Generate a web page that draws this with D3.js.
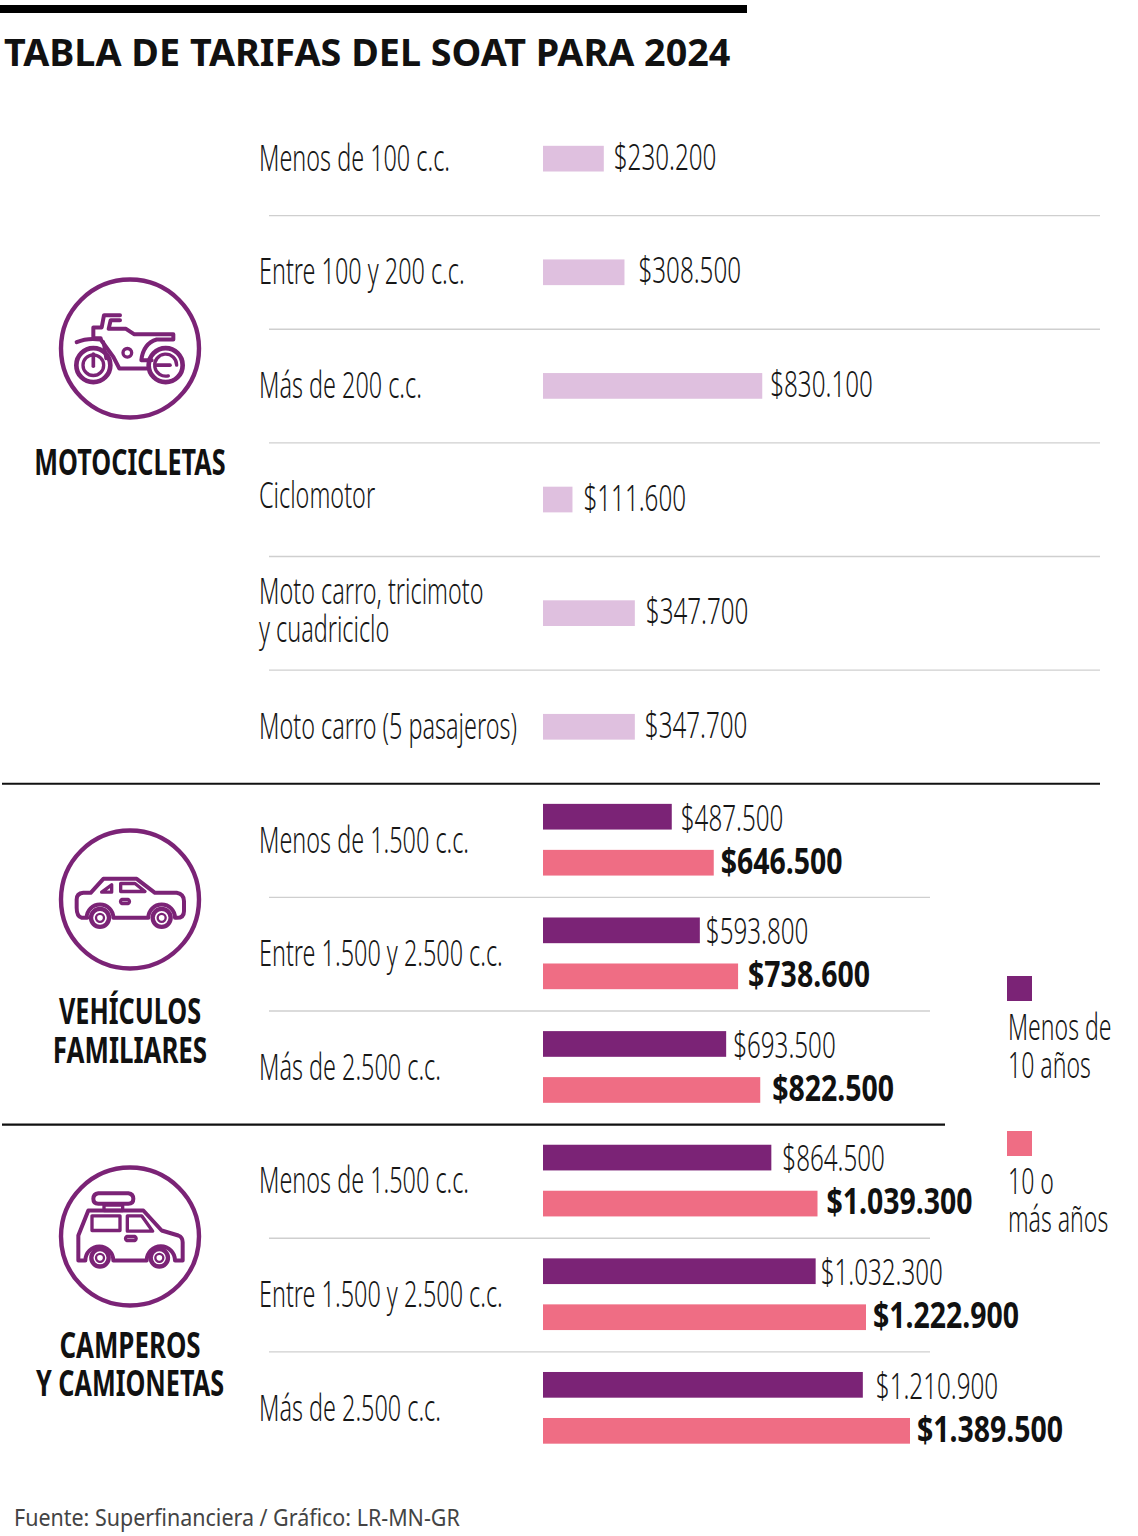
<!DOCTYPE html>
<html><head><meta charset="utf-8">
<script src="https://cdn.jsdelivr.net/npm/d3@7"></script>
<style>html,body{margin:0;padding:0;background:#fff}svg{display:block}text{font-family:"Noto Sans",sans-serif}</style>
</head><body><svg id="c" width="1138" height="1536"></svg>
<script>
const motoLabels=[["Menos de 100 c.c."],["Entre 100 y 200 c.c."],["Más de 200 c.c."],["Ciclomotor"],["Moto carro, tricimoto","y cuadriciclo"],["Moto carro (5 pasajeros)"]];
const motoValues=[230200,308500,830100,111600,347700,347700];
const autoLabels=[["Menos de 1.500 c.c."],["Entre 1.500 y 2.500 c.c."],["Más de 2.500 c.c."],["Menos de 1.500 c.c."],["Entre 1.500 y 2.500 c.c."],["Más de 2.500 c.c."]];
const newerValues=[487500,593800,693500,864500,1032300,1210900];
const olderValues=[646500,738600,822500,1039300,1222900,1389500];
const seriesNames=[["Menos de","10 años"],["10 o","más años"]];
const groupNames=[["MOTOCICLETAS"],["VEHÍCULOS","FAMILIARES"],["CAMPEROS","Y CAMIONETAS"]];
const title="TABLA DE TARIFAS DEL SOAT PARA 2024";
const source="Fuente: Superfinanciera / Gráfico: LR-MN-GR";

const PURPLE="#7b2376",PINK="#ef6d84",LILAC="#dfc0df",INK="#161616";
const svg=d3.select("#c");
const fmt=d3.formatLocale({decimal:",",thousands:".",grouping:[3],currency:["$",""]}).format("$,.0f");
const x=d3.scaleLinear().domain([0,1389500]).range([543,910]);
const y=d3.scaleBand().domain(d3.range(12)).range([102,1465.5]);

function label(t,px,py,size,opt={}){
  const f=opt.squeeze||1;
  return svg.append("text").attr("transform",`translate(${px},${py}) scale(${f},1)`)
    .attr("font-size",size).attr("font-weight",opt.weight||300).attr("fill",opt.fill||INK)
    .attr("text-anchor",opt.anchor||"start").text(t);
}
const FS=36,SQ_TEXT=.65,SQ_VALUE=.672,SQ_BOLD=.79;
const body=(t,px,py)=>label(t,px,py,FS,{squeeze:SQ_TEXT});
const value=(t,px,py)=>label(t,px,py,FS,{squeeze:SQ_VALUE});

svg.append("rect").attr("x",0).attr("y",5).attr("width",747).attr("height",8).attr("fill","#000");
label(title,4,66,38,{weight:700,fill:"#111",squeeze:.993});

function rule(x1,x2,yy,c,w){svg.append("line").attr("x1",x1).attr("x2",x2).attr("y1",yy).attr("y2",yy).attr("stroke",c).attr("stroke-width",w);}

const allLabels=motoLabels.concat(autoLabels);
allLabels.forEach((l,i)=>{
  const cy=y(i)+y.bandwidth()/2;
  const tune=i===3?-4:0;
  if(l.length===1) body(l[0],259,cy+12+tune);
  else {body(l[0],259,cy-9);body(l[1],259,cy+29);}
});

[1,2,3,4,5].forEach(i=>rule(269,1100,y(i),"#cfcfcf",1.3));
[7,8,10,11].forEach(i=>rule(269,930,y(i),"#cfcfcf",1.3));
rule(2,1100,y(6),"#111",2.2);
rule(2,945,y(9),"#111",2.2);

const motoGaps=[10,14,8,11,11,10];
svg.append("g").selectAll("rect").data(motoValues).join("rect")
  .attr("x",x(0)).attr("y",(d,i)=>y(i)+y.bandwidth()/2-13)
  .attr("width",d=>x(d)-x(0)).attr("height",25.7).attr("fill",LILAC);
motoValues.forEach((d,i)=>value(fmt(d),x(d)+motoGaps[i],y(i)+y.bandwidth()/2+11));

const newerGaps=[9,6,7,11,5,13],olderGaps=[7,10,12,9,7,7];
svg.append("g").selectAll("rect").data(newerValues).join("rect")
  .attr("x",x(0)).attr("y",(d,i)=>y(i+6)+y.bandwidth()/2-36.7)
  .attr("width",d=>x(d)-x(0)).attr("height",25.7).attr("fill",PURPLE);
svg.append("g").selectAll("rect").data(olderValues).join("rect")
  .attr("x",x(0)).attr("y",(d,i)=>y(i+6)+y.bandwidth()/2+9.3)
  .attr("width",d=>x(d)-x(0)).attr("height",25.7).attr("fill",PINK);
newerValues.forEach((d,i)=>value(fmt(d),x(d)+newerGaps[i],y(i+6)+y.bandwidth()/2-10));
olderValues.forEach((d,i)=>label(fmt(d),x(d)+olderGaps[i],y(i+6)+y.bandwidth()/2+33,FS,{weight:700,fill:"#111",squeeze:SQ_BOLD}));

[[1007,976,PURPLE,1040,1078],[1007,1131,PINK,1194,1232]].forEach((l,i)=>{
  svg.append("rect").attr("x",l[0]).attr("y",l[1]).attr("width",25).attr("height",25).attr("fill",l[2]);
  label(seriesNames[i][0],l[0]+1,l[3],FS,{squeeze:.64});
  label(seriesNames[i][1],l[0]+1,l[4],FS,{squeeze:.64});
});

const big=f=>({weight:700,fill:"#111",anchor:"middle",squeeze:f});
label(groupNames[0][0],130,475,35,big(.72));
label(groupNames[1][0],130,1024,35,big(.72));
label(groupNames[1][1],130,1063,35,big(.74));
label(groupNames[2][0],130,1358,35,big(.74));
label(groupNames[2][1],130,1396,35,big(.72));

function icon(cx,cy,ox,oy,draw){
  const g=svg.append("g").attr("transform",`translate(${cx},${cy})`);
  g.append("circle").attr("r",69).attr("fill","none").attr("stroke",PURPLE).attr("stroke-width",4.4);
  const s=g.append("g").attr("transform",`scale(${1/3}) translate(${-ox},${-oy})`)
    .attr("fill","none").attr("stroke",PURPLE).attr("stroke-width",12).attr("stroke-linejoin","round").attr("stroke-linecap","round");
  draw(s);
}
const P=(s,d,w)=>{const p=s.append("path").attr("d",d);if(w)p.attr("stroke-width",w);};
const C=(s,cx,cy,r,w)=>{const p=s.append("circle").attr("cx",cx).attr("cy",cy).attr("r",r);if(w)p.attr("stroke-width",w);};

icon(130,348.5,390,265,s=>{
  P(s,"M360 165H312L305 202H280V234H302");
  P(s,"M360 180H332L326 206H378L402 222H520V238H470Q430 250 424 300H455");
  P(s,"M230 246Q262 232 302 238L340 290L358 325H440");
  P(s,"M310 245L318 295",10);
  C(s,382,278,13,10);
  C(s,280,315,51,14);C(s,280,315,31,10);P(s,"M280 282V318",11);
  C(s,497,315,51,14);P(s,"M530 315A33 33 0 1 0 505 347",10);P(s,"M470 315H510",11);
});
icon(130,899.5,390,270,s=>{
  P(s,"M262 325H245Q230 322 230 295V270Q230 252 250 250H272L310 208H410L465 250H530Q552 254 552 275V305Q552 325 530 325H525A40 40 0 0 0 445 325H340A40 40 0 0 0 260 325");
  P(s,"M305 248L335 226V248Z",10);
  P(s,"M362 222H405L435 246H362Z",10);
  P(s,"M365 270H385Q392 276 385 282H365Q358 276 365 270Z",10);
  C(s,300,325,27,13);C(s,300,325,12,7);
  C(s,485,325,27,13);C(s,485,325,12,7);
});
icon(130,1236.5,390,258,s=>{
  P(s,"M295 128H385Q400 130 400 145Q400 160 385 160H295Q280 160 280 145Q280 130 295 128Z");
  P(s,"M312 164H368V180H312Z",10);
  P(s,"M256 330H235V255L265 180H430L485 240L535 255Q548 260 548 275V330H525A40 40 0 0 0 440 330H340A40 40 0 0 0 256 330");
  P(s,"M276 196H360V240H276Z",10);
  P(s,"M382 196H425L458 242H382Z",10);
  P(s,"M380 258H405Q412 264 405 270H380Q373 264 380 258Z",10);
  C(s,300,322,26,13);C(s,300,322,12,7);
  C(s,478,322,26,13);C(s,478,322,12,7);
});

label(source,14,1526,23,{weight:400,fill:"#444",squeeze:.933});
</script></body></html>
